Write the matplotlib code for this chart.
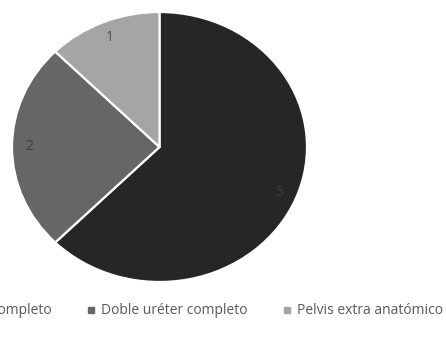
import matplotlib
matplotlib.use("Agg")
import matplotlib.pyplot as plt
from matplotlib.lines import Line2D

categories = ["Doble uréter incompleto", "Doble uréter completo", "Pelvis extra anatómico"]
values = [5, 2, 1]
colors = ["#262626", "#666666", "#a5a5a5"]
label_colors = ["#3f3f3f", "#404040", "#505050"]

plt.rcParams["font.family"] = ["Open Sans", "DejaVu Sans"]

fig = plt.figure(figsize=(4.46, 3.42), dpi=100)
ax = fig.add_axes([12 / 446, 60 / 342, 295 / 446, 270 / 342])

wedges, texts = ax.pie(values, colors=colors, startangle=90, counterclock=False,
                       labels=[str(v) for v in values], labeldistance=0.88,
                       wedgeprops=dict(edgecolor="white", linewidth=1.6),
                       textprops=dict(fontsize=10))
for t, c in zip(texts, label_colors):
    t.set_color(c)
    t.set_ha("center")
    t.set_va("center")
ax.set_aspect("auto")
ax.set_xlim(-1, 1)
ax.set_ylim(-1, 1)

handles = [Line2D([], [], marker="s", ls="none", color=c, markersize=4.5) for c in colors]
leg = fig.legend(handles, categories, loc="center", ncol=3, frameon=False,
                 bbox_to_anchor=(160 / 446, 1 - 311 / 342), fontsize=10,
                 handletextpad=0.3, columnspacing=2.45, handlelength=0.8)
for t in leg.get_texts():
    t.set_color("#595959")

fig.savefig("out.png", dpi=100)
